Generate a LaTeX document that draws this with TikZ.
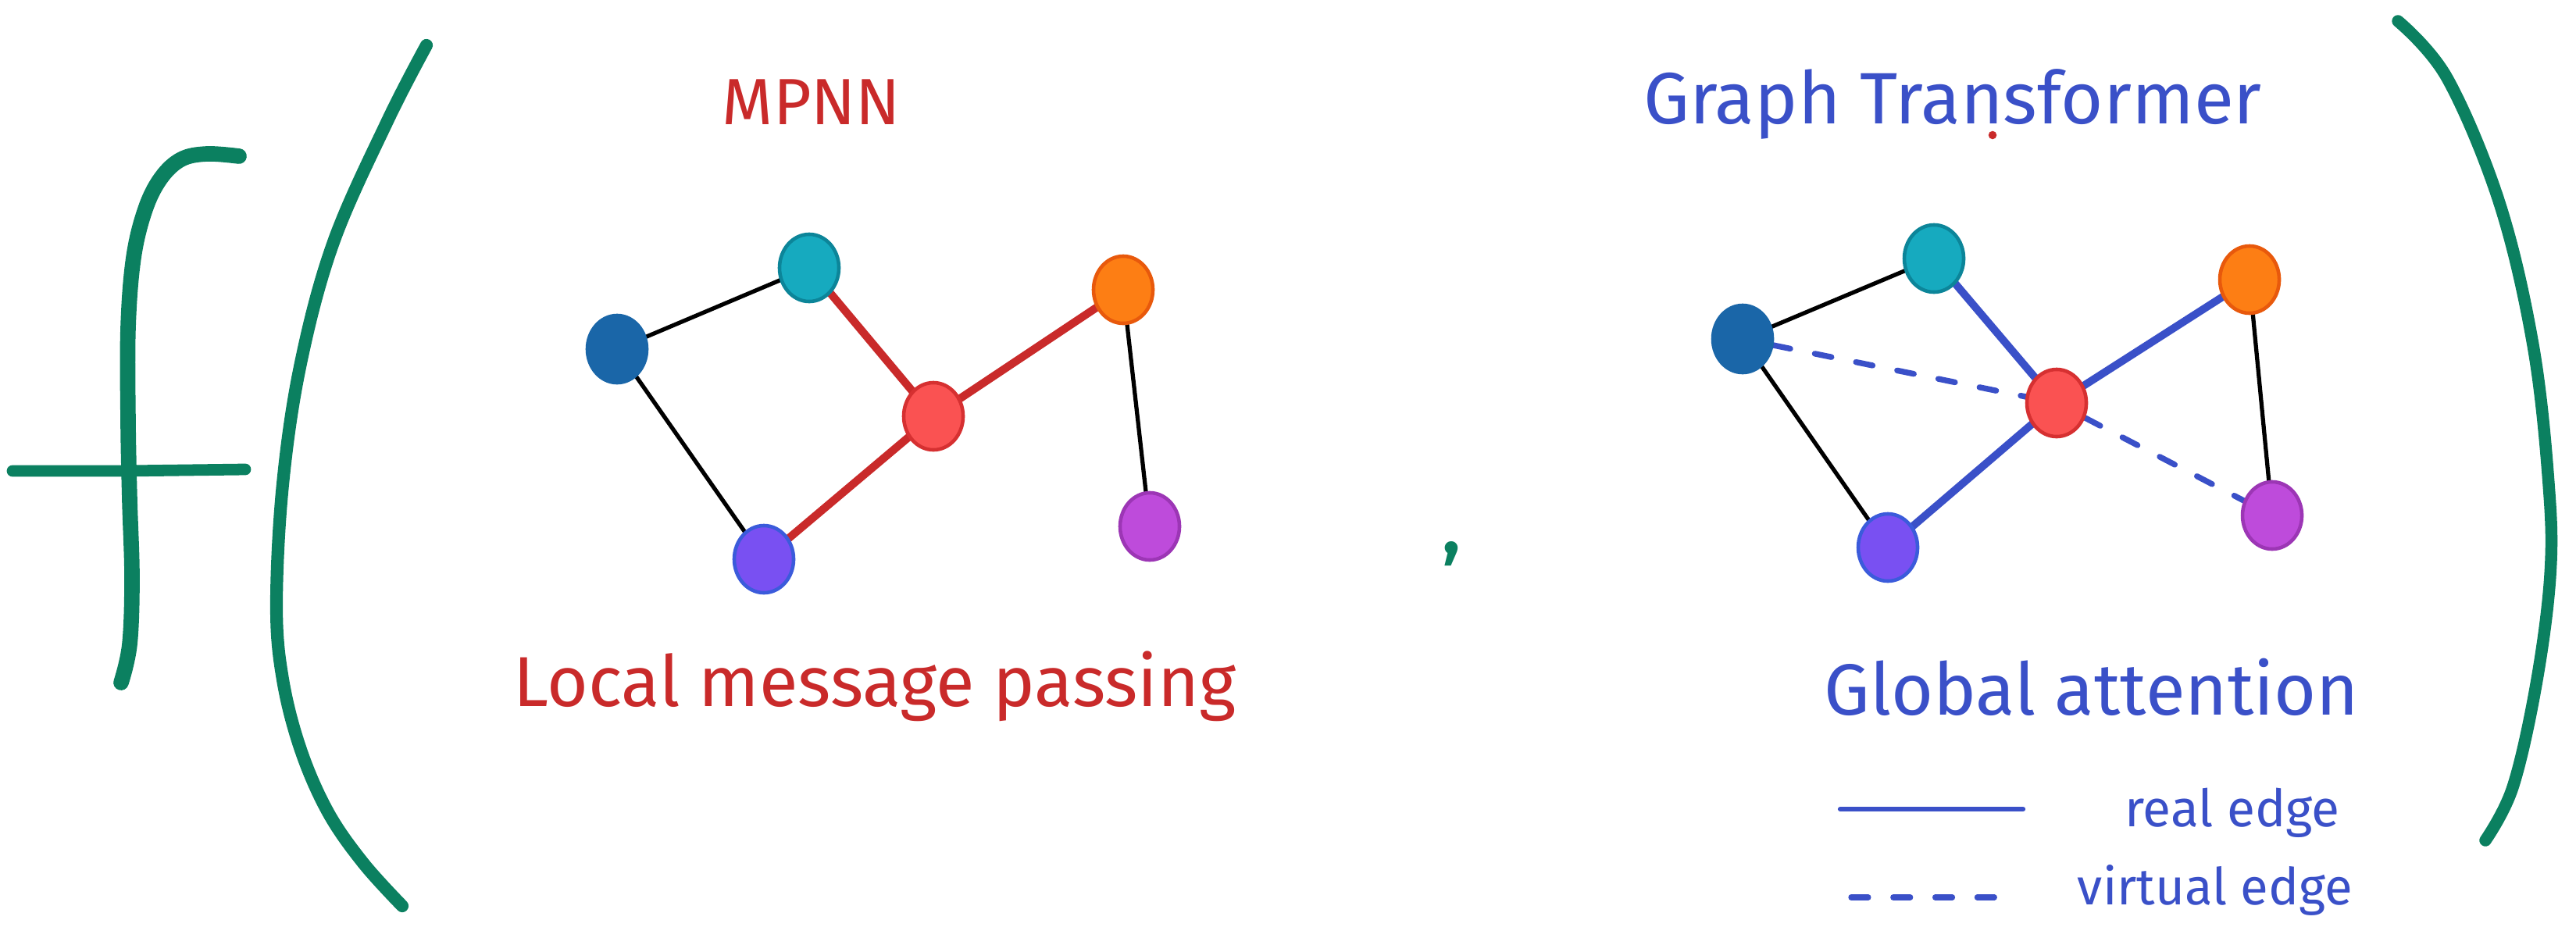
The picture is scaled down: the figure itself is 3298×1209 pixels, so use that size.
\documentclass[tikz,border=0pt]{standalone}
\usepackage{fontspec}
\setmainfont{Fira Sans}
\usetikzlibrary{shapes.geometric,backgrounds}
\definecolor{cGreen}{HTML}{0B8060}
\definecolor{cRed}{HTML}{C92A2A}
\definecolor{cInd}{HTML}{3A50C8}
\definecolor{nBlue}{HTML}{1A66A8}
\definecolor{nTeal}{HTML}{16AABF}
\definecolor{nTealD}{HTML}{0C8599}
\definecolor{nRed}{HTML}{FA5252}
\definecolor{nRedD}{HTML}{D63031}
\definecolor{nOr}{HTML}{FD7E14}
\definecolor{nOrD}{HTML}{E8590C}
\definecolor{nPur}{HTML}{BE4BDB}
\definecolor{nPurD}{HTML}{9C36B5}
\definecolor{nVio}{HTML}{7950F2}
\definecolor{nVioD}{HTML}{3B5BDB}
\begin{document}
\begin{tikzpicture}[x=0.01cm,y=-0.01cm,
  gnode/.style={ellipse,minimum width=0.76cm,minimum height=0.86cm,inner sep=0pt,line width=1.3pt},
  blackedge/.style={line width=1.5pt,black},
  rededge/.style={line width=2.9pt,cRed},
  indedge/.style={line width=2.8pt,cInd},
  virtedge/.style={line width=2.1pt,cInd,line cap=round,dash pattern=on 6.2pt off 9.1pt},
  legsolid/.style={line width=1.8pt,cInd,line cap=round},
  hand/.style={anchor=base,inner sep=0pt},
  greenstroke/.style={cGreen,line cap=round,line join=round}
]
\path (0,0) rectangle (3298,1209);

% f
\draw[greenstroke,line width=5.6pt] plot[smooth,tension=0.6] coordinates
  {(306,200) (265,197) (232,204) (206,228) (186,268) (171,330) (164,420) (164,540) (166,640) (169,740) (166,825) (155,874)};
\draw[greenstroke,line width=4.2pt] (16,603) -- (160,603) -- (314,601);
% left parenthesis
\draw[greenstroke,line width=4.6pt] plot[smooth,tension=0.6] coordinates
  {(546,58) (496,155) (427,310) (385,465) (362,620) (354,775) (362,870) (385,960) (420,1040) (465,1105) (515,1160)};
% right parenthesis
\draw[greenstroke,line width=4.4pt] plot[smooth,tension=0.6] coordinates
  {(3070,27) (3133,100) (3200,260) (3243,442) (3263,620) (3265,736) (3247,876) (3217,1008) (3182,1076)};

% comma
\node[hand,text=cGreen,font=\fontsize{26pt}{30pt}\bfseries\selectfont] (comma) at (1858,708) {,};

% titles
\node[hand,text=cRed] (mpnn) at (1039,159) {\resizebox{2.28cm}{!}{MPNN}};
\node[hand,text=cInd] (gt) at (2500,158) {\resizebox{7.91cm}{!}{Graph Transformer}};
\fill[cRed] (2551,173) circle[radius=1.5pt];
\node[hand,text=cRed] (lmp) at (1120,904) {\resizebox{9.24cm}{!}{Local message passing}};
\node[hand,text=cInd] (ga) at (2678,915) {\resizebox{6.84cm}{!}{Global attention}};

% graph 1 nodes
\node[gnode,fill=nBlue,draw=nBlue] (b1) at (790,447) {};
\node[gnode,fill=nTeal,draw=nTealD] (t1) at (1036,343) {};
\node[gnode,fill=nRed,draw=nRedD] (r1) at (1195,533) {};
\node[gnode,fill=nOr,draw=nOrD] (o1) at (1438,371) {};
\node[gnode,fill=nPur,draw=nPurD] (p1) at (1472,674) {};
\node[gnode,fill=nVio,draw=nVioD] (v1) at (978,716) {};

% graph 2 nodes
\node[gnode,fill=nBlue,draw=nBlue] (b2) at (2231,434) {};
\node[gnode,fill=nTeal,draw=nTealD] (t2) at (2476,331) {};
\node[gnode,fill=nRed,draw=nRedD] (r2) at (2633,516) {};
\node[gnode,fill=nOr,draw=nOrD] (o2) at (2880,358) {};
\node[gnode,fill=nPur,draw=nPurD] (p2) at (2909,660) {};
\node[gnode,fill=nVio,draw=nVioD] (v2) at (2417,701) {};

\begin{scope}[on background layer]
  \draw[blackedge] (b1.center) -- (t1.center);
  \draw[blackedge] (b1.center) -- (v1.center);
  \draw[blackedge] (o1.center) -- (p1.center);
  \draw[rededge] (t1.center) -- (r1.center);
  \draw[rededge] (r1.center) -- (o1.center);
  \draw[rededge] (r1.center) -- (v1.center);

  \draw[blackedge] (b2.center) -- (t2.center);
  \draw[blackedge] (b2.center) -- (v2.center);
  \draw[blackedge] (o2.center) -- (p2.center);
  \draw[indedge] (t2.center) -- (r2.center);
  \draw[indedge] (r2.center) -- (o2.center);
  \draw[indedge] (r2.center) -- (v2.center);
  \draw[virtedge] (b2) -- (r2);
  \draw[virtedge] (r2) -- (p2);
\end{scope}

% legend
\coordinate (ls1) at (2356,1036);
\coordinate (ls2) at (2590,1036);
\coordinate (ld1) at (2370,1149);
\coordinate (ld2) at (2556,1149);
\draw[legsolid] (ls1) -- (ls2);
\draw[virtedge] (ld1) -- (ld2);
\node[hand,text=cInd] (re) at (2858,1058) {\resizebox{2.75cm}{!}{real edge}};
\node[hand,text=cInd] (ve) at (2836,1158) {\resizebox{3.52cm}{!}{virtual edge}};
\end{tikzpicture}
\end{document}
